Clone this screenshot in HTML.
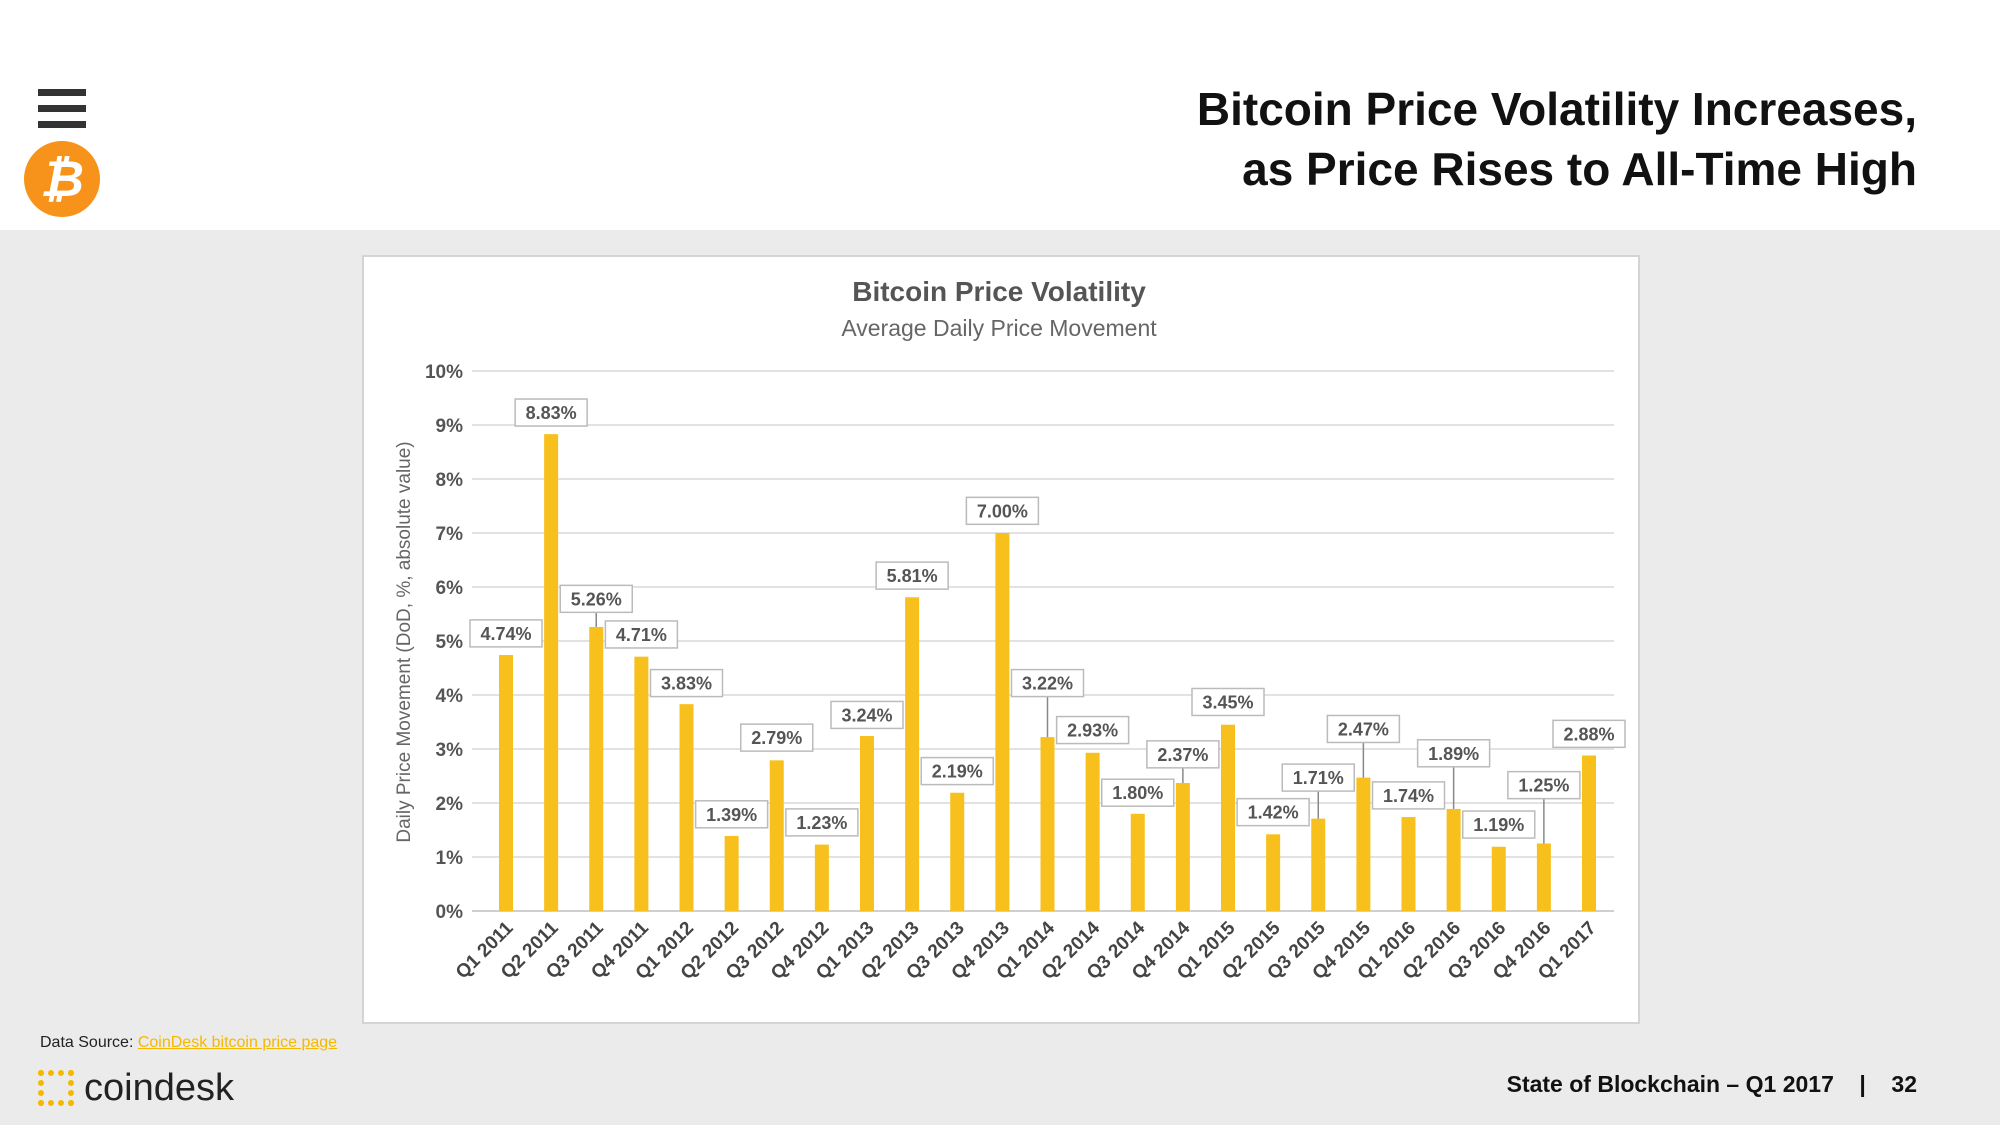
<!DOCTYPE html>
<html><head><meta charset="utf-8">
<style>
body{margin:0;width:2000px;height:1125px;overflow:hidden;background:#ebebeb;font-family:"Liberation Sans",sans-serif;position:relative}
#hdr{position:absolute;left:0;top:0;width:2000px;height:230px;background:#fff}
.t{position:absolute;right:83px;font-weight:bold;font-size:46px;color:#111;text-align:right}
#box{position:absolute;left:362px;top:255px;width:1274px;height:765px;background:#fff;border:2px solid #d4d4d4}
</style></head><body>
<div id="hdr">
 <div style="position:absolute;left:38px;top:89px;width:48px;height:40px">
  <div style="height:7px;background:#333;margin-bottom:9px"></div><div style="height:7px;background:#333;margin-bottom:9px"></div><div style="height:7px;background:#333"></div></div>
 <div style="position:absolute;left:24px;top:141px;width:76px;height:76px;border-radius:50%;background:#f7931a;color:#fff;font-weight:bold;font-size:50px;line-height:76px;text-align:center;font-style:italic">₿</div>
 <div class="t" style="top:82px">Bitcoin Price Volatility Increases,</div>
 <div class="t" style="top:142px">as Price Rises to All-Time High</div>
</div>
<div id="box"></div>
<svg id="chart" width="2000" height="1125" style="position:absolute;left:0;top:0"></svg>
<div style="position:absolute;left:40px;top:1034px;font-size:16px;color:#222">Data Source: <span style="color:#f5b800;text-decoration:underline">CoinDesk bitcoin price page</span></div>
<div style="position:absolute;left:38px;top:1068px;font-size:38px;color:#222;line-height:40px"><span style="display:inline-block;width:36px;height:36px;border:6px dotted #f5b800;box-sizing:border-box;vertical-align:-6px;margin-right:10px"></span>coindesk</div>
<div style="position:absolute;right:83px;top:1071px;font-size:23px;font-weight:bold;color:#111">State of Blockchain – Q1 2017 &nbsp;&nbsp;&nbsp;|&nbsp;&nbsp;&nbsp; 32</div>
<script>
const categories=["Q1 2011","Q2 2011","Q3 2011","Q4 2011","Q1 2012","Q2 2012","Q3 2012","Q4 2012","Q1 2013","Q2 2013","Q3 2013","Q4 2013","Q1 2014","Q2 2014","Q3 2014","Q4 2014","Q1 2015","Q2 2015","Q3 2015","Q4 2015","Q1 2016","Q2 2016","Q3 2016","Q4 2016","Q1 2017"];
const values=[4.74,8.83,5.26,4.71,3.83,1.39,2.79,1.23,3.24,5.81,2.19,7.00,3.22,2.93,1.80,2.37,3.45,1.42,1.71,2.47,1.74,1.89,1.19,1.25,2.88];
const labelLift=[0.41,0.41,0.53,0.42,0.40,0.41,0.43,0.42,0.40,0.41,0.41,0.42,1.01,0.43,0.40,0.54,0.43,0.42,0.77,0.91,0.41,1.04,0.42,1.09,0.41];
const yTicks=[0,1,2,3,4,5,6,7,8,9,10];
const svg=document.getElementById('chart');const NS='http://www.w3.org/2000/svg';
function mk(t,a,p){const e=document.createElementNS(NS,t);for(const k in a)e.setAttribute(k,a[k]);(p||svg).appendChild(e);return e;}
const y0=911,y1=371,x0=472,x1=1614;
const Y=v=>y0-(v/10)*(y0-y1);
const firstC=506,lastC=1589;
const step=(lastC-firstC)/(categories.length-1);
const X=i=>firstC+step*i;
let e=mk('text',{x:999,y:301,'text-anchor':'middle','font-size':28,'font-weight':'bold',fill:'#555'});e.textContent='Bitcoin Price Volatility';


e=mk('text',{x:999,y:336,'text-anchor':'middle','font-size':23,fill:'#666'});e.textContent='Average Daily Price Movement';


e=mk('text',{transform:'translate(410,642) rotate(-90)','text-anchor':'middle','font-size':19,fill:'#666'});e.textContent='Daily Price Movement (DoD, %, absolute value)';


yTicks.forEach(t=>{
 const g=mk('line',{x1:x0,x2:x1,y1:Y(t),y2:Y(t),stroke:t===0?'#bfbfbf':'#d9d9d9','stroke-width':1.5});
 
 
 const l=mk('text',{x:463,y:Y(t)+7,'text-anchor':'end','font-size':19,'font-weight':'bold',fill:'#555'});l.textContent=t+'%';
 
 
});
values.forEach((v,i)=>{
 const cx=X(i);
 const b=mk('rect',{x:cx-7,y:Y(v),width:14,height:y0-Y(v),fill:'#f8c01c'});
 
 
 const ly=Y(v+labelLift[i]);
 if(labelLift[i]>0.5){const ln=mk('line',{x1:cx,x2:cx,y1:ly+13,y2:Y(v),stroke:'#888','stroke-width':1.5});
  
  }
 const r=mk('rect',{x:cx-36,y:ly-13,width:72,height:27,fill:'#fff',stroke:'#bbb','stroke-width':1.5});
 
 
 const t=mk('text',{x:cx,y:ly+7,'text-anchor':'middle','font-size':18,'font-weight':'bold',fill:'#555'});t.textContent=v.toFixed(2)+'%';
 
 
 const c=mk('text',{transform:`translate(${cx+8},${y0+18}) rotate(-45)`,'text-anchor':'end','font-size':19,'font-weight':'bold',fill:'#444'});c.textContent=categories[i];
 
 
});
</script>
</body></html>
